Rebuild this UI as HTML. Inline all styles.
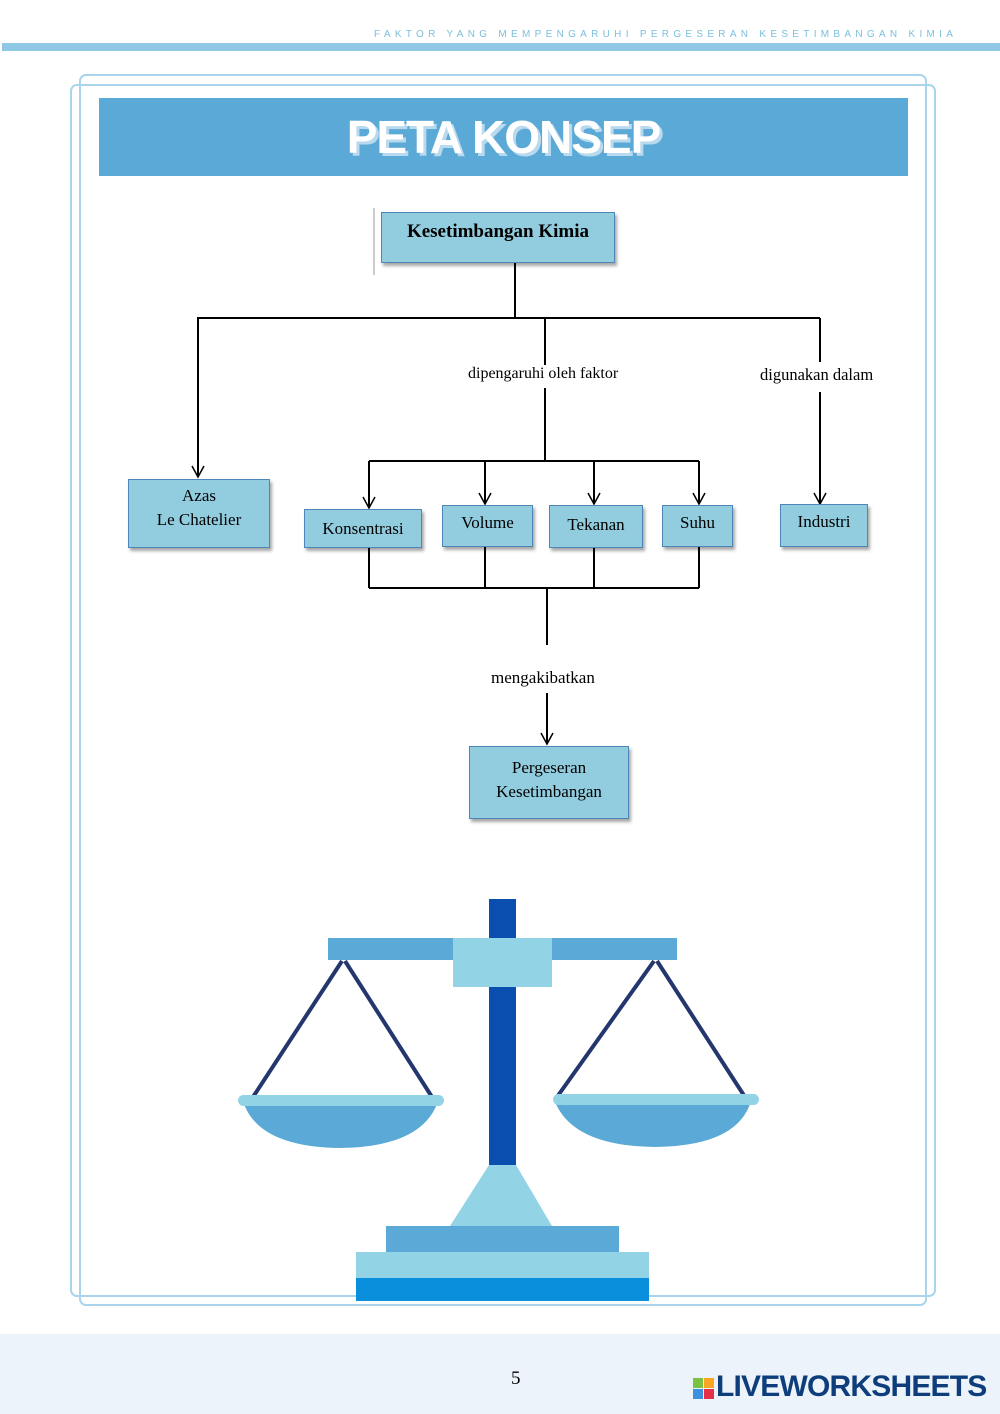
<!DOCTYPE html>
<html><head><meta charset="utf-8"><style>
html,body{margin:0;padding:0}
body{width:1000px;height:1414px;position:relative;background:#fff;overflow:hidden;font-family:"Liberation Serif",serif}
.box{position:absolute;background:#92cddf;border:1px solid #4f86b8;box-shadow:2px 3px 3px rgba(0,0,0,.35);box-sizing:border-box;text-align:center;font-size:17px;color:#000;display:flex;align-items:center;justify-content:center;line-height:24px}
.lbl{position:absolute;font-size:16px;background:#fff;padding:0 3px;white-space:nowrap}
</style></head><body>
<div style="position:absolute;left:374px;top:29px;font-family:'Liberation Sans',sans-serif;font-size:10px;letter-spacing:4.3px;color:#7cc0dd;white-space:nowrap">FAKTOR YANG MEMPENGARUHI PERGESERAN KESETIMBANGAN KIMIA</div>
<div style="position:absolute;left:2px;top:43px;width:998px;height:8px;background:#8ec8e6"></div>
<svg width="1000" height="1414" style="position:absolute;left:0;top:0">
<g fill="none" stroke="#a9d5ec" stroke-width="2">
<rect x="80" y="75" width="846" height="1230" rx="6"/>
<rect x="71" y="85" width="864" height="1211" rx="6"/>
</g>
<g stroke="#000" stroke-width="2" fill="none">
<line x1="515" y1="263" x2="515" y2="318"/>
<line x1="197" y1="318" x2="820" y2="318"/>
<line x1="198" y1="318" x2="198" y2="476"/>
<line x1="545" y1="318" x2="545" y2="365"/>
<line x1="545" y1="388" x2="545" y2="461"/>
<line x1="369" y1="461" x2="699" y2="461"/>
<line x1="369" y1="461" x2="369" y2="507"/>
<line x1="485" y1="461" x2="485" y2="503"/>
<line x1="594" y1="461" x2="594" y2="503"/>
<line x1="699" y1="461" x2="699" y2="503"/>
<line x1="820" y1="318" x2="820" y2="362"/>
<line x1="820" y1="392" x2="820" y2="503"/>
<line x1="369" y1="548" x2="369" y2="588"/>
<line x1="485" y1="547" x2="485" y2="588"/>
<line x1="594" y1="548" x2="594" y2="588"/>
<line x1="699" y1="547" x2="699" y2="588"/>
<line x1="369" y1="588" x2="699" y2="588"/>
<line x1="547" y1="588" x2="547" y2="645"/>
<line x1="547" y1="693" x2="547" y2="743"/>
<g stroke-width="1.5">
<polyline points="192,466 198,477 204,466"/>
<polyline points="363,497 369,508 375,497"/>
<polyline points="479,493 485,504 491,493"/>
<polyline points="588,493 594,504 600,493"/>
<polyline points="693,493 699,504 705,493"/>
<polyline points="814,493 820,504 826,493"/>
<polyline points="541,733 547,744 553,733"/>
</g>
</g>
<line x1="374" y1="208" x2="374" y2="275" stroke="#bbb" stroke-width="1.5"/>
<rect x="489" y="899" width="27" height="267" fill="#0a4fb0"/>
<rect x="328" y="938" width="349" height="22" fill="#5aa9d6"/>
<rect x="453" y="938" width="99" height="49" fill="#92d3e6"/>
<g stroke="#24366e" stroke-width="4">
<line x1="342" y1="961" x2="253" y2="1097"/><line x1="345" y1="961" x2="432" y2="1097"/>
<line x1="654" y1="961" x2="557" y2="1097"/><line x1="657" y1="961" x2="745" y2="1097"/>
</g>
<path d="M244 1104 L437 1104 Q420 1147 340 1148 Q260 1147 244 1104Z" fill="#5aa9d6"/>
<path d="M556 1104 L750 1104 Q735 1146 655 1147 Q575 1146 556 1104Z" fill="#5aa9d6"/>
<rect x="238" y="1095" width="206" height="11" rx="5.5" fill="#92d3e6"/>
<rect x="553" y="1094" width="206" height="11" rx="5.5" fill="#92d3e6"/>
<polygon points="489,1165 516,1165 552,1226 450,1226" fill="#92d3e6"/>
<rect x="386" y="1226" width="233" height="27" fill="#5aa9d6"/>
<rect x="356" y="1252" width="293" height="27" fill="#92d3e6"/>
<rect x="356" y="1278" width="293" height="23" fill="#0a8fdc"/>
</svg>
<div style="position:absolute;left:99px;top:98px;width:809px;height:78px;background:#5aa9d6"></div>
<div style="position:absolute;left:99px;top:110px;width:809px;text-align:center;font-family:'Liberation Sans',sans-serif;font-weight:bold;font-size:46px;color:#fff;letter-spacing:-1px;text-shadow:3px 3px 0 #b8d9ee">PETA KONSEP</div>
<div class="box" style="left:381px;top:212px;width:234px;height:51px;font-weight:bold;font-size:19px;padding-bottom:12px">Kesetimbangan Kimia</div>
<div class="box" style="left:128px;top:479px;width:142px;height:69px;padding-bottom:12px">Azas<br>Le Chatelier</div>
<div class="box" style="left:304px;top:509px;width:118px;height:39px">Konsentrasi</div>
<div class="box" style="left:442px;top:505px;width:91px;height:42px;padding-bottom:6px">Volume</div>
<div class="box" style="left:549px;top:505px;width:94px;height:43px;padding-bottom:4px">Tekanan</div>
<div class="box" style="left:662px;top:505px;width:71px;height:42px;padding-bottom:6px">Suhu</div>
<div class="box" style="left:780px;top:504px;width:88px;height:43px;padding-bottom:8px">Industri</div>
<div class="box" style="left:469px;top:746px;width:160px;height:73px;padding-bottom:6px">Pergeseran<br>Kesetimbangan</div>
<div class="lbl" style="left:465px;top:365px">dipengaruhi oleh faktor</div>
<div class="lbl" style="left:757px;top:365px;font-size:16.5px">digunakan dalam</div>
<div class="lbl" style="left:488px;top:668px;font-size:17px">mengakibatkan</div>
<div style="position:absolute;left:0;top:1334px;width:1000px;height:80px;background:#ecf3fa"></div>
<div style="position:absolute;left:511px;top:1368px;font-size:19px">5</div>
<div style="position:absolute;left:693px;top:1378px;width:22px;height:22px">
<div style="position:absolute;left:0;top:0;width:10px;height:10px;background:#7cc242"></div>
<div style="position:absolute;left:11px;top:0;width:10px;height:10px;background:#f6a623"></div>
<div style="position:absolute;left:0;top:11px;width:10px;height:10px;background:#3d8fe0"></div>
<div style="position:absolute;left:11px;top:11px;width:10px;height:10px;background:#e5304a"></div>
</div>
<div style="position:absolute;left:716px;top:1370px;font-family:'Liberation Sans',sans-serif;font-weight:bold;font-size:30px;color:#0d3d7a;letter-spacing:-0.8px">LIVEWORKSHEETS</div>
</body></html>
